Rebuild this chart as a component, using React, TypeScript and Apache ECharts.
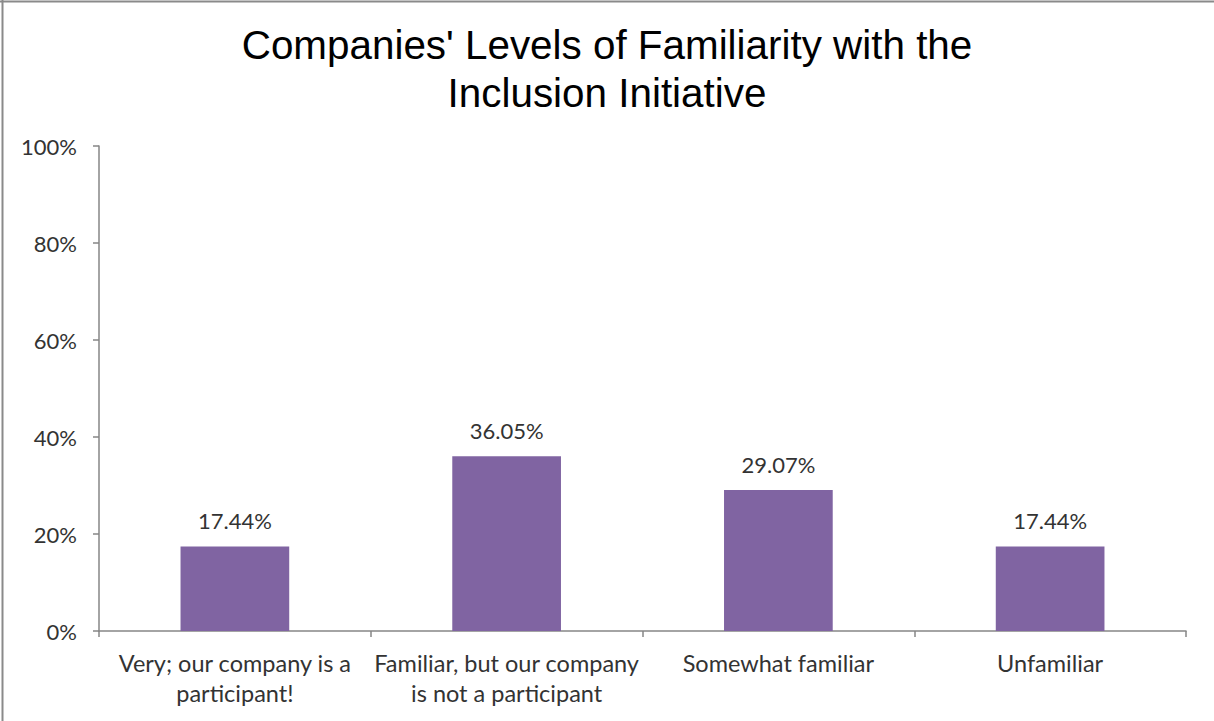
import React, { useEffect, useRef } from "react";
import * as echarts from "echarts";

const titleLines = ["Companies' Levels of Familiarity with the", "Inclusion Initiative"];
const categories = [
  "Very; our company is a participant!",
  "Familiar, but our company is not a participant",
  "Somewhat familiar",
  "Unfamiliar",
];
const categoryLabels = [
  "Very; our company is a\nparticipant!",
  "Familiar, but our company\nis not a participant",
  "Somewhat familiar",
  "Unfamiliar",
];
const values = [17.44, 36.05, 29.07, 17.44];
const yTicks = [0, 20, 40, 60, 80, 100];

export default function App() {
  const ref = useRef<HTMLDivElement>(null);
  useEffect(() => {
    if (!ref.current) return;
    const chart = echarts.init(ref.current, undefined, { renderer: "svg" });
    chart.setOption({
      animation: false,
      backgroundColor: "#ffffff",
      title: {
        text: titleLines.join("\n"),
        left: "center",
        top: 21,
        padding: 0,
        textStyle: {
          fontFamily: "Liberation Sans, Arial, sans-serif",
          fontSize: 40.4,
          fontWeight: "normal",
          color: "#000000",
          lineHeight: 48,
        },
      },
      graphic: [
        { type: "line", shape: { x1: 0, y1: 1.5, x2: 1214, y2: 1.5 }, style: { stroke: "#8a8a8a", lineWidth: 2 } },
        { type: "line", shape: { x1: 2.5, y1: 0, x2: 2.5, y2: 721 }, style: { stroke: "#8a8a8a", lineWidth: 2 } },
      ],
      grid: { left: 99, right: 28, top: 146, bottom: 90 },
      xAxis: {
        type: "category",
        data: categories,
        axisLine: { lineStyle: { color: "#868686", width: 1.5 } },
        axisTick: { show: true, length: 6, lineStyle: { color: "#868686", width: 1.5 } },
        axisLabel: {
          interval: 0,
          margin: 17,
          formatter: (_v: string, i: number) => categoryLabels[i],
          fontFamily: "Lato, Open Sans, sans-serif",
          fontSize: 23.5,
          lineHeight: 30,
          color: "#333333",
        },
      },
      yAxis: {
        type: "value",
        min: 0,
        max: 100,
        interval: 20,
        axisLine: { show: true, lineStyle: { color: "#868686", width: 1.5 } },
        axisTick: { show: true, length: 6, lineStyle: { color: "#868686", width: 1.5 } },
        splitLine: { show: false },
        axisLabel: {
          margin: 22,
          formatter: (v: number) => (yTicks.includes(v) ? v + "%" : ""),
          fontFamily: "Lato, Open Sans, sans-serif",
          fontSize: 22,
          color: "#333333",
        },
      },
      series: [
        {
          type: "bar",
          data: values,
          barWidth: "40%",
          itemStyle: { color: "#8064a2" },
          label: {
            show: true,
            position: "top",
            distance: 15,
            formatter: (p: any) => p.value.toFixed(2) + "%",
            fontFamily: "Lato, Open Sans, sans-serif",
            fontSize: 22,
            color: "#333333",
          },
        },
      ],
    });
    return () => chart.dispose();
  }, []);
  return (
    <div
      ref={ref}
      style={{ position: "fixed", left: 0, top: 0, width: 1214, height: 721 }}
    />
  );
}
